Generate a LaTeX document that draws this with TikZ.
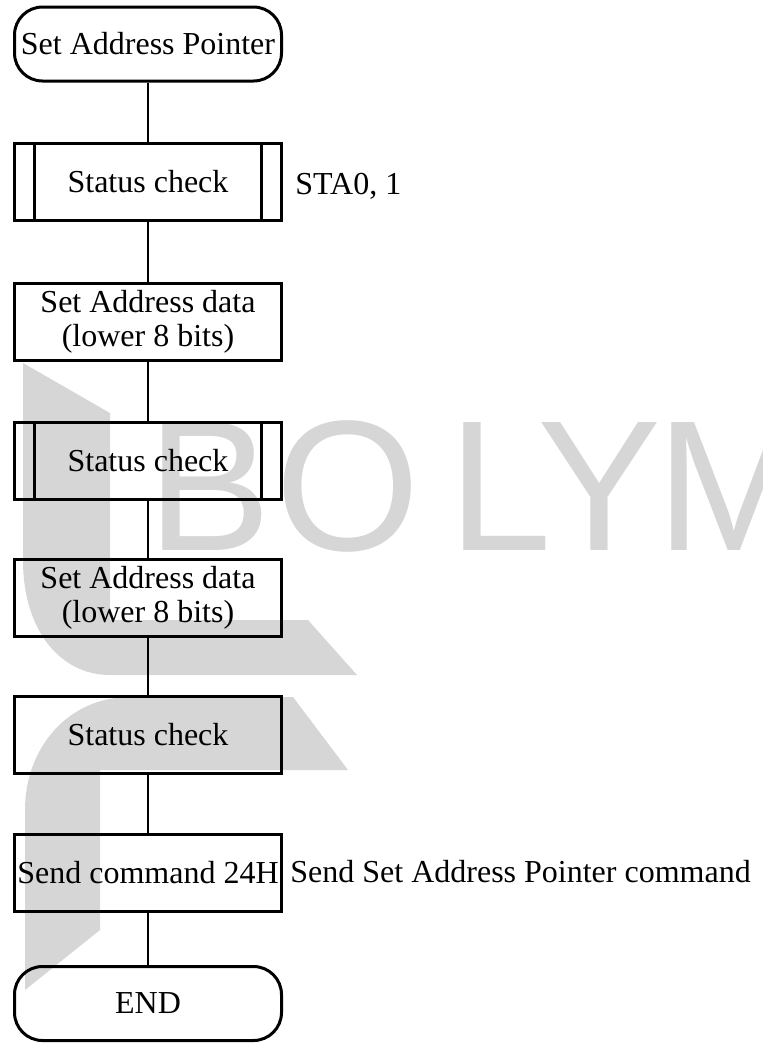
\documentclass[tikz,border=0pt]{standalone}
\usepackage{fontspec}
\setmainfont{Liberation Serif}
\newfontfamily\wmfont{Liberation Sans}
\definecolor{wmgray}{gray}{0.84}
\begin{document}
\begin{tikzpicture}[x=0.5pt,y=-0.5pt,
	every node/.style={font=\fontsize{16}{17}\selectfont},
	box/.style={draw,line width=1.5pt,minimum width=133.5pt,minimum height=38.5pt,inner sep=0,align=center},
	term/.style={box,rounded corners=14pt,minimum height=37pt},
	subproc/.style={box,path picture={
		\draw[line width=1.5pt] ([xshift=10pt]path picture bounding box.north west)--([xshift=10pt]path picture bounding box.south west)
			([xshift=-10pt]path picture bounding box.north east)--([xshift=-10pt]path picture bounding box.south east);}},
	wm/.style={text=wmgray,font=\wmfont\fontsize{93}{93}\selectfont,inner sep=0,anchor=base},
	link/.style={line width=1.25pt}]
		% watermark
		\begin{scope}
			\clip (0,0) rectangle (763,1046);
			\fill[wmgray] (23,363) -- (110,413) -- (110,620) -- (308,620) -- (357,675) -- (110,675) .. controls (60,675) and (23,630) .. (23,560) -- cycle;
			\fill[wmgray] (25,990) -- (25,810) .. controls (25,748) and (68,697) .. (130,697) -- (293,697) -- (348,770) -- (100,770) -- (100,930) -- cycle;
			\foreach \ch/\cx in {B/210,O/348,L/500,Y/600,M/734}
				\node[wm] at (\cx,550) {\ch};
		\end{scope}
		% flow
		\node[term] (start) at (148,44) {Set Address Pointer};
		\node[subproc] (sc1) at (148,181.5) {Status check};
		\node[box] (addr1) at (148,321.5) {Set Address data\\(lower 8 bits)};
		\node[subproc] (sc2) at (148,460.5) {Status check};
		\node[box] (addr2) at (148,597.5) {Set Address data\\(lower 8 bits)};
		\node[box] (sc3) at (148,734.5) {Status check};
		\node[box] (cmd) at (148,873) {Send command 24H};
		\node[term] (fin) at (148,1003.5) {END};
		\node[anchor=base west,inner sep=0] (stalbl) at (295,194) {STA0, 1};
		\node[anchor=base west,inner sep=0] (cmdlbl) at (290,882) {Send Set Address Pointer command};
		\foreach \a/\b in {start/sc1,sc1/addr1,addr1/sc2,sc2/addr2,addr2/sc3,sc3/cmd,cmd/fin}
			\draw[link] (\a) -- (\b);
		\pgfresetboundingbox
		\useasboundingbox (0,0) rectangle (763,1046);
	\end{tikzpicture}
\end{document}
